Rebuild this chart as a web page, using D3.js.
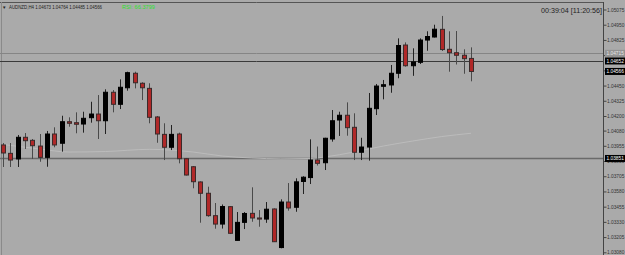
<!DOCTYPE html>
<html><head><meta charset="utf-8">
<script src="https://cdn.jsdelivr.net/npm/d3@7"></script>
<style>html,body{margin:0;padding:0;background:#aaaaaa;}svg{display:block;}</style>
</head><body>
<script>
const symbol = "AUDNZD,H4";
const open = [1.03962,1.03893,1.03847,1.04025,1.04000,1.03953,1.03860,1.04052,1.03976,1.04153,1.04145,1.04134,1.04186,1.04216,1.04161,1.04395,1.04296,1.04432,1.04551,1.04469,1.04427,1.04192,
1.04049,1.03943,1.04052,1.03849,1.03783,1.03658,1.03565,1.03381,1.03312,1.03455,1.03178,1.03326,1.03400,1.03362,1.03353,1.03436,1.03119,1.03493,1.03450,1.03662,1.03694,
1.03838,1.03816,1.04011,1.04167,1.04206,1.04107,1.03902,1.03945,1.04260,1.04444,1.04455,1.04551,1.04783,1.04613,1.04641,1.04824,1.04849,1.04912,1.04748,1.04720,1.04699,1.04673];
const high = [1.03978,1.03978,1.04044,1.04060,1.04011,1.04052,1.04077,1.04107,1.04202,1.04189,1.04230,1.04235,1.04317,1.04372,1.04419,1.04413,1.04501,1.04564,1.04564,1.04477,1.04469,1.04200,
1.04140,1.04126,1.04063,1.03855,1.03789,1.03663,1.03619,1.03485,1.03473,1.03460,1.03411,1.03411,1.03614,1.03427,1.03493,1.03441,1.03515,1.03649,1.03688,1.03705,1.04008,
1.03949,1.04021,1.04249,1.04235,1.04312,1.04222,1.04021,1.04389,1.04463,1.04496,1.04619,1.04838,1.04805,1.04756,1.04838,1.04896,1.04950,1.05022,1.04896,1.04898,1.04748,1.04764];
const low = [1.03781,1.03781,1.03781,1.03929,1.03847,1.03824,1.03783,1.03943,1.03907,1.04112,1.04058,1.04063,1.04145,1.04011,1.04052,1.04230,1.04257,1.04408,1.04427,1.04331,1.04140,1.03980,
1.03838,1.03920,1.03811,1.03711,1.03606,1.03323,1.03372,1.03274,1.03275,1.03230,1.03177,1.03271,1.03331,1.03290,1.03322,1.03165,1.03113,1.03422,1.03413,1.03559,1.03641,
1.03793,1.03756,1.03989,1.04036,1.04038,1.03838,1.03838,1.03833,1.04208,1.04337,1.04391,1.04510,1.04605,1.04530,1.04627,1.04736,1.04845,1.04734,1.04564,1.04623,1.04547,1.04485];
const close = [1.03896,1.03838,1.04025,1.03997,1.03956,1.03860,1.04052,1.03962,1.04153,1.04140,1.04132,1.04181,1.04216,1.04161,1.04395,1.04296,1.04436,1.04556,1.04473,1.04432,1.04189,1.04052,
1.03943,1.04049,1.03849,1.03715,1.03660,1.03565,1.03381,1.03312,1.03456,1.03236,1.03326,1.03399,1.03362,1.03353,1.03434,1.03167,1.03493,1.03444,1.03659,1.03697,1.03838,
1.03811,1.04017,1.04161,1.04206,1.04104,1.03902,1.03945,1.04263,1.04446,1.04457,1.04551,1.04779,1.04613,1.04644,1.04824,1.04853,1.04913,1.04746,1.04720,1.04699,1.04671,1.04566];
const maIndex = [0,5,9,14,20,26,30,34,38,42,44,48,52,56,60,64];
const maValue = [1.03966,1.03929,1.03904,1.03908,1.03926,1.03904,1.03871,1.03855,1.03848,1.03851,1.03863,1.03904,1.03953,1.03994,1.04031,1.04058];
const tickLabels = ["1.05075","1.04950","1.04825","1.04700","1.04575","1.04450","1.04325","1.04200","1.04080","1.03955","1.03830","1.03705","1.03580","1.03455","1.03330","1.03205","1.03080"];
const levelGray = 1.04715;
const levelBlack = 1.04652;
const levelLow = 1.03851;
const indicatorText = "RSI: 66.3799";
const timerText = "00:39:04 [11:20:56]";

const W = 625, H = 255, axisX = 603;
const svg = d3.select("body").append("svg").attr("width", W).attr("height", H);
svg.append("rect").attr("width", W).attr("height", H).attr("fill", "#aaaaaa");

const y = d3.scaleLinear().domain([1.05075, 1.03080]).range([9.5, 252.3]);
const x = d3.scaleLinear().domain([0, open.length - 1]).range([3, 471]);
const font = "'Liberation Sans', Arial, sans-serif";

// frame
svg.append("line").attr("x1", 0).attr("x2", axisX).attr("y1", 2.5).attr("y2", 2.5).attr("stroke", "#555").attr("stroke-width", 1);
svg.append("line").attr("x1", axisX + 0.5).attr("x2", axisX + 0.5).attr("y1", 2).attr("y2", H).attr("stroke", "#444").attr("stroke-width", 1);
svg.append("line").attr("x1", 1.5).attr("x2", 1.5).attr("y1", 2).attr("y2", H).attr("stroke", "#8a8a8a").attr("stroke-width", 1);

// axis
const axis = d3.axisRight(y).tickValues(tickLabels.map(Number)).tickFormat((d, i) => tickLabels[i]).tickSize(3).tickSizeOuter(0);
const ag = svg.append("g").attr("transform", `translate(${axisX + 0.5},0)`).call(axis);
ag.select(".domain").remove();
ag.selectAll(".tick line").attr("stroke", "#444");
ag.selectAll(".tick text").attr("x", 3.5).attr("fill", "#333").attr("font-size", 4.8).attr("font-family", font);

// horizontal levels
svg.append("line").attr("x1", 0).attr("x2", axisX).attr("y1", Math.round(y(levelGray)) + 0.5).attr("y2", Math.round(y(levelGray)) + 0.5).attr("stroke", "#858585");
svg.append("line").attr("x1", 0).attr("x2", axisX).attr("y1", Math.round(y(levelBlack)) + 0.5).attr("y2", Math.round(y(levelBlack)) + 0.5).attr("stroke", "#3a3a3a");
svg.append("line").attr("x1", 0).attr("x2", axisX).attr("y1", Math.round(y(levelLow)) + 0.5).attr("y2", Math.round(y(levelLow)) + 0.5).attr("stroke", "#6a6a6a").attr("stroke-width", 1.3);

// moving average
const ma = maIndex.map((d, i) => [d, maValue[i]]);
svg.append("path").datum(ma).attr("fill", "none").attr("stroke", "#bdbdbd").attr("stroke-width", 0.9)
  .attr("d", d3.line().x(d => x(d[0])).y(d => y(d[1])).curve(d3.curveMonotoneX));

// candles
const data = open.map((o, i) => ({i, o, h: high[i], l: low[i], c: close[i]}));
const g = svg.append("g");
g.selectAll("line.wick").data(data).join("line").attr("class", "wick")
  .attr("x1", d => Math.round(x(d.i)) + 0.5).attr("x2", d => Math.round(x(d.i)) + 0.5)
  .attr("y1", d => y(d.h)).attr("y2", d => y(d.l))
  .attr("stroke", d => d.c > d.o ? "#222" : "#4a4a4a").attr("stroke-width", 1);
g.selectAll("rect.body").data(data).join("rect").attr("class", "body")
  .attr("x", d => Math.round(x(d.i)) - 1.5).attr("width", 4)
  .attr("y", d => y(Math.max(d.o, d.c)))
  .attr("height", d => Math.max(1, Math.abs(y(d.o) - y(d.c))))
  .attr("fill", d => d.c > d.o ? "#000" : "#b02828")
  .attr("stroke", d => d.c > d.o ? "#000" : "#3a2a2a").attr("stroke-width", 1);

// price label boxes
function priceBox(v, fill, txt, tcol) {
  const yy = y(v);
  svg.append("rect").attr("x", axisX + 2).attr("y", yy - 3.5).attr("width", 20).attr("height", 7).attr("fill", fill);
  svg.append("text").attr("x", axisX + 3.5).attr("y", yy + 1.8).attr("fill", tcol).attr("font-size", 4.8).attr("font-family", font).text(txt);
}
priceBox(levelGray, "#939393", levelGray.toFixed(5), "#e8e8e8");
priceBox(levelBlack, "#000", levelBlack.toFixed(5), "#fff");
priceBox(close[close.length - 1], "#000", close[close.length - 1].toFixed(5), "#fff");
priceBox(levelLow, "#000", levelLow.toFixed(5), "#fff");

// header
const last = open.length - 1;
svg.append("text").attr("x", 2).attr("y", 8.5).attr("font-size", 4.5).attr("fill", "#222").attr("font-family", font).text("▼");
svg.append("text").attr("x", 9).attr("y", 8.5).attr("font-size", 4.6).attr("fill", "#222").attr("font-family", font)
  .attr("textLength", 93).attr("lengthAdjust", "spacingAndGlyphs")
  .text(`${symbol} ${open[last].toFixed(5)} ${high[last].toFixed(5)} ${low[last].toFixed(5)} ${close[last].toFixed(5)}`);
svg.append("text").attr("x", 122).attr("y", 8.5).attr("font-size", 4.6).attr("fill", "#2ee02e").attr("font-family", font)
  .attr("textLength", 33).attr("lengthAdjust", "spacingAndGlyphs").text(indicatorText);
svg.append("text").attr("x", 541).attr("y", 12.5).attr("font-size", 7).attr("fill", "#222").attr("font-family", font)
  .attr("textLength", 61).attr("lengthAdjust", "spacingAndGlyphs").text(timerText);
</script>
</body></html>
